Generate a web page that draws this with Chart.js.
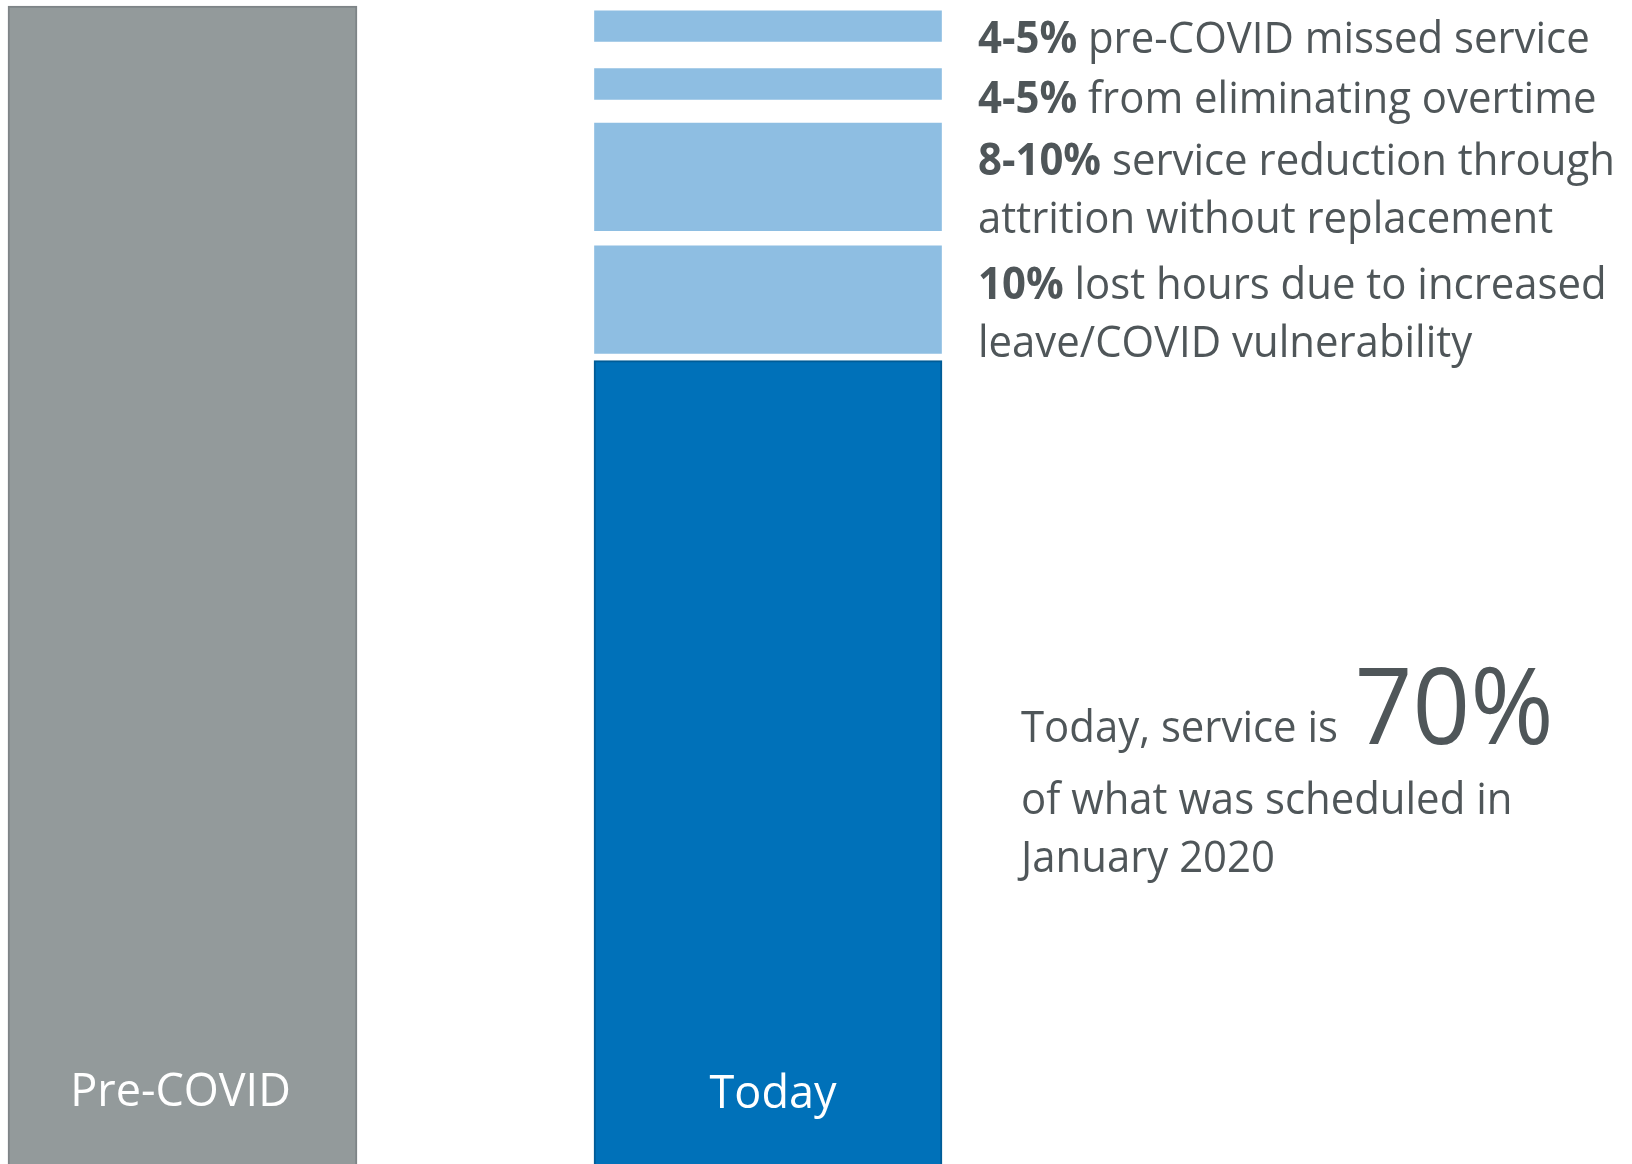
<!DOCTYPE html>
<html>
<head>
<meta charset="utf-8">
<script src="https://cdn.jsdelivr.net/npm/chart.js@4.4.1/dist/chart.umd.min.js"></script>
<style>
  html, body { margin: 0; padding: 0; background: #ffffff; overflow: hidden; }
  #wrap { position: relative; width: 1632px; height: 1188px; }
</style>
</head>
<body>
<div id="wrap"><canvas id="chart" width="1632" height="1188"></canvas></div>
<script>
// Share of scheduled service (January 2020 = 100)
const categories = ['Pre-COVID', 'Today'];
const scheduledService = [100, null];
const todayService = [null, 70];

// Service lost since January 2020, drawn as floating ranges above the Today bar
const lostMissed    = [null, [97.0, 99.6]];
const lostOvertime  = [null, [92.1, 94.7]];
const lostAttrition = [null, [81.0, 90.1]];
const lostLeave     = [null, [70.6, 79.7]];

// Notes beside each lost-service range (bold figure, then the wrapped description)
const noteFigures = ['4-5%', '4-5%', '8-10%', '10%'];
const noteLines = [
  ['pre-COVID missed service'],
  ['from eliminating overtime'],
  ['service reduction through', 'attrition without replacement'],
  ['lost hours due to increased', 'leave/COVID vulnerability']
];
const summaryLead = 'Today, service is';
const summaryLines = ['of what was scheduled in', 'January 2020'];

const GREY = '#939a9b';
const GREY_EDGE = '#7e8487';
const BLUE = '#0071b9';
const BLUE_EDGE = '#005c97';
const LIGHT_BLUE = '#8ebee2';
const TEXT = '#4f5659';
const FONT = '"Open Sans", "Noto Sans", sans-serif';
const CONDENSE = 0.952;   // slightly narrower set width for the side text

function rangeSet(label, data) {
  return {
    label, data,
    backgroundColor: LIGHT_BLUE,
    borderWidth: 0,
    barThickness: 347,
    grouped: false,
    clip: false
  };
}

// draw text with a given horizontal scale; returns the advance width used
function put(ctx, text, x, y, font, align, sx) {
  const k = sx || CONDENSE;
  ctx.font = font;
  const w = ctx.measureText(text).width * k;
  const x0 = align === 'center' ? x - w / 2 : x;
  ctx.save();
  ctx.translate(x0, y);
  ctx.scale(k, 1);
  ctx.textAlign = 'left';
  ctx.fillText(text, 0, 0);
  ctx.restore();
  return w;
}
function advance(ctx, text, font) {
  ctx.font = font;
  return ctx.measureText(text).width * CONDENSE;
}

// Bar captions and the side notes, drawn on the chart canvas
const annotations = {
  id: 'annotations',
  afterDatasetsDraw(chart) {
    const ctx = chart.ctx;
    ctx.save();
    ctx.textBaseline = 'alphabetic';
    const regular = '400 44px ' + FONT;
    const bold = '700 44px ' + FONT;

    // captions inside the bars
    ctx.fillStyle = '#ffffff';
    const xs = chart.scales.x;
    const caption = '400 45px ' + FONT;
    put(ctx, categories[0], xs.getPixelForValue(0) - 2, 1106, caption, 'center', 1);
    put(ctx, categories[1], xs.getPixelForValue(1) + 5, 1108, caption, 'center', 1);

    // side notes
    ctx.fillStyle = TEXT;
    const left = 978;
    const firstBaselines = [53, 113, 175, 299];
    const lineGap = 58;
    noteFigures.forEach((fig, i) => {
      const y = firstBaselines[i];
      put(ctx, fig, left, y, bold);
      const w = advance(ctx, fig + ' ', bold);
      noteLines[i].forEach((line, j) => {
        put(ctx, line, j === 0 ? left + w : left, y + j * lineGap, regular);
      });
    });

    // summary
    const sx = 1021;
    put(ctx, summaryLead, sx, 742, regular);
    const lw = advance(ctx, summaryLead + ' ', regular);
    put(ctx, todayService[1] + '%', sx + lw + 6, 744, '400 106px ' + FONT);
    summaryLines.forEach((line, j) => put(ctx, line, sx, 814 + j * 58, regular));

    ctx.restore();
  }
};

new Chart(document.getElementById('chart'), {
  type: 'bar',
  data: {
    labels: categories,
    datasets: [
      {
        label: 'Scheduled service',
        data: scheduledService,
        backgroundColor: GREY,
        borderColor: GREY_EDGE,
        borderWidth: 2,
        barThickness: 349,
        grouped: false,
        clip: false
      },
      {
        label: 'Service today',
        data: todayService,
        backgroundColor: BLUE,
        borderColor: BLUE_EDGE,
        borderWidth: 2,
        barThickness: 348,
        grouped: false,
        clip: false
      },
      rangeSet('Pre-COVID missed service', lostMissed),
      rangeSet('Eliminated overtime', lostOvertime),
      rangeSet('Attrition without replacement', lostAttrition),
      rangeSet('Increased leave / COVID vulnerability', lostLeave)
    ]
  },
  options: {
    responsive: false,
    animation: false,
    layout: { padding: { left: 182.5, right: 864, top: 6, bottom: 0 } },
    plugins: { legend: { display: false }, tooltip: { enabled: false } },
    scales: {
      x: { type: 'category', offset: false, display: false },
      y: { min: 0, max: 100, display: false }
    }
  },
  plugins: [annotations]
});
</script>
</body>
</html>
